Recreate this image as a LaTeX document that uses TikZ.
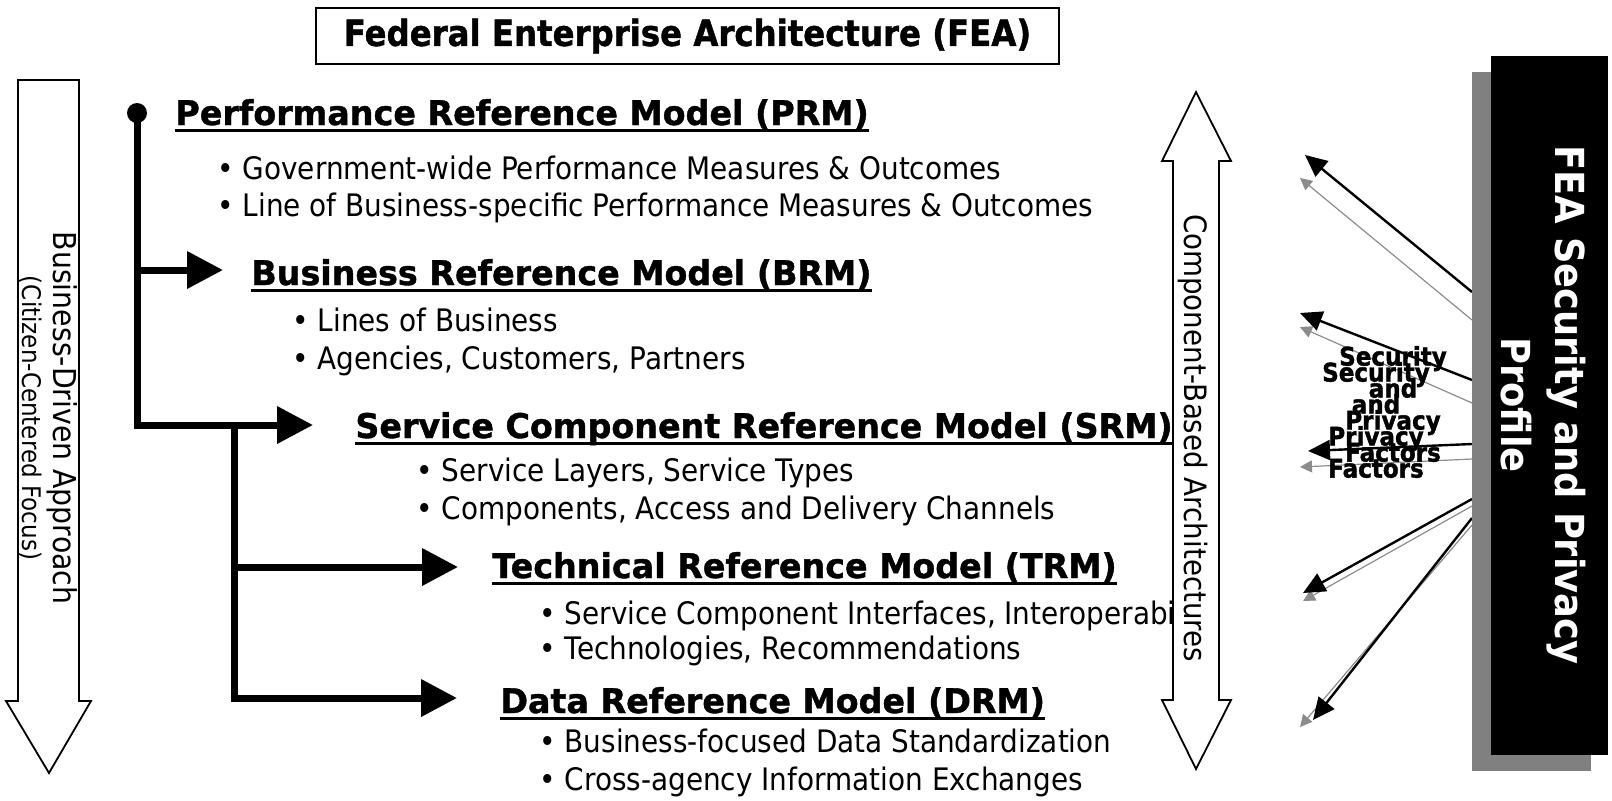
\documentclass[tikz,border=0pt]{standalone}
\usepackage{fontspec}
\setmainfont{DejaVu Sans}
\newfontfamily\bodyf{DejaVu Sans}[FakeStretch=0.9]
\newfontfamily\headf{DejaVu Sans}[FakeStretch=0.98,BoldFeatures={FakeBold=1.2}]
\newfontfamily\factf{DejaVu Sans}[FakeStretch=0.9,BoldFeatures={FakeBold=1.5}]
\newfontfamily\secf{DejaVu Sans}[FakeStretch=0.92]
\usetikzlibrary{arrows.meta}
\begin{document}
\begin{tikzpicture}[x=0.5pt,y=-0.5pt,
  hd/.style={inner sep=0,anchor=base west,font=\headf\bfseries\fontsize{17pt}{20pt}\selectfont},
  bl/.style={inner sep=0,anchor=base west,font=\bodyf\fontsize{15.5pt}{18pt}\selectfont},
  ul/.style={line width=1.6pt},
  tree/.style={line width=3.5pt,line join=miter,-{Triangle[length=18pt,width=18pt]}},
  bigarr/.style={draw=black,fill=white,line width=0.9pt,line join=miter},
  secarr/.style={line width=1.2pt,-{Triangle[length=11pt,width=10pt]}},
  shadarr/.style={draw=black!45,line width=0.6pt,-{Triangle[length=6pt,width=6pt]},black!45},
  factors/.style={align=center,inner sep=0,font=\factf\bfseries\fontsize{12.8pt}{16pt}\selectfont}
]
\useasboundingbox (0,0) rectangle (1612,800);

% title
\node[draw,line width=1.2pt,inner sep=0,minimum width=371.5pt,minimum height=28pt,
      font=\headf\bfseries\fontsize{18pt}{21pt}\selectfont] (title) at (687.5,36)
      {\addfontfeatures{FakeStretch=0.9}Federal Enterprise Architecture (FEA)};

% left big arrow
\draw[bigarr] (18,80) -- (79,80) -- (79,701) -- (91,701) -- (49,773) -- (6,701) -- (18,701) -- cycle;
\node[rotate=-90,inner sep=0,font=\bodyf\fontsize{15.75pt}{18pt}\selectfont] (bda) at (62,418) {Business-Driven Approach};
\node[rotate=-90,inner sep=0,font=\bodyf\fontsize{12.8pt}{15pt}\selectfont] (ccf) at (31,418) {(Citizen-Centered Focus)};

% headings
\node[hd] (prm) at (175,125) {Performance Reference Model (PRM)};
\node[hd] (brm) at (251,285) {Business Reference Model (BRM)};
\node[hd] (srm) at (355,438) {Service Component Reference Model (SRM)};
\node[hd] (trm) at (492,578) {Technical Reference Model (TRM)};
\node[hd] (drm) at (500,713) {Data Reference Model (DRM)};
\foreach \n in {prm,brm,srm,trm,drm}
  \draw[ul] ([yshift=-2.6pt]\n.base west) -- ([yshift=-2.6pt]\n.base east);

% bullets
\node[bl] (p1) at (217,179) {• Government-wide Performance Measures \& Outcomes};
\node[bl] (p2) at (217,216) {• Line of Business-specific Performance Measures \& Outcomes};
\node[bl] (b1) at (292,331) {• Lines of Business};
\node[bl] (b2) at (292,369) {• Agencies, Customers, Partners};
\node[bl] (s1) at (416,481) {• Service Layers, Service Types};
\node[bl] (s2) at (416,519) {• Components, Access and Delivery Channels};
\node[bl] (t1) at (539,624) {• Service Component Interfaces, Interoperability};
\node[bl] (t2) at (539,659) {• Technologies, Recommendations};
\node[bl] (d1) at (539,752) {• Business-focused Data Standardization};
\node[bl] (d2) at (539,790) {• Cross-agency Information Exchanges};

% tree connectors
\coordinate (dot) at (137,113);
\coordinate (j1) at (137,270);
\coordinate (j2) at (234,425);
\coordinate (j3) at (234,567);
\coordinate (brmtip) at (223,270);
\coordinate (srmtip) at (313,425);
\coordinate (trmtip) at (458,567);
\coordinate (drmtip) at (457,698);
\fill (dot) circle (5pt);
\draw[tree] (dot) |- (srmtip);
\draw[tree] (j1) -- (brmtip);
\draw[tree] (j2) |- (drmtip);
\draw[tree] (j3) -- (trmtip);

% component-based double arrow
\draw[bigarr] (1196,92) -- (1231,161) -- (1219,161) -- (1219,700) -- (1231,700) -- (1196,769)
   -- (1162,700) -- (1173,700) -- (1173,161) -- (1162,161) -- cycle;
\node[rotate=-90,inner sep=0,font=\bodyf\fontsize{15.4pt}{18pt}\selectfont] (cba) at (1193,438) {Component-Based Architectures};

% security arrows
\coordinate (a1s) at (1472,292); \coordinate (a1e) at (1305,155);
\coordinate (g1s) at (1472,320); \coordinate (g1e) at (1300,178);
\coordinate (a2s) at (1472,380); \coordinate (a2e) at (1300,313);
\coordinate (g2s) at (1472,403); \coordinate (g2e) at (1300,327);
\coordinate (a3s) at (1472,444); \coordinate (a3e) at (1308,451);
\coordinate (g3s) at (1472,459); \coordinate (g3e) at (1300,467);
\coordinate (a4s) at (1472,499); \coordinate (a4e) at (1303,593);
\coordinate (g4s) at (1472,506); \coordinate (g4e) at (1303,601);
\coordinate (a5s) at (1472,518); \coordinate (a5e) at (1313,720);
\coordinate (g5s) at (1472,525); \coordinate (g5e) at (1300,727);
\foreach \i in {1,...,5} {
  \draw[shadarr] (g\i s) -- (g\i e);
  \draw[secarr] (a\i s) -- (a\i e);
}

% profile box
\fill[black!50] (1472,72) rectangle (1591,771);
\fill[black] (1491,56) rectangle (1608,755);
\node[rotate=-90,inner sep=0,text=white,font=\secf\bfseries\fontsize{20pt}{24pt}\selectfont] (fea1) at (1566,405) {FEA Security and Privacy};
\node[rotate=-90,inner sep=0,text=white,font=\secf\bfseries\fontsize{20pt}{24pt}\selectfont] (fea2) at (1516,405) {Profile};

% factors labels
\node[factors] (fb) at (1376,420) {Security\\and\\Privacy\\Factors};
\node[factors] (fa) at (1393,404) {Security\\and\\Privacy\\Factors};
\end{tikzpicture}
\end{document}
